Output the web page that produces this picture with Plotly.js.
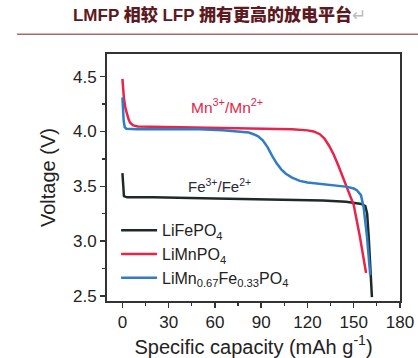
<!DOCTYPE html>
<html>
<head>
<meta charset="utf-8">
<script src="https://cdn.plot.ly/plotly-3.0.1.min.js"></script>
<style>html,body{margin:0;padding:0;background:#fff;}#chart{width:418px;height:358px;}</style>
</head>
<body>
<div id="chart"></div>
<script>
// ---- data ----
const feCap = [0, 0.3, 1, 3, 20, 60, 100, 130, 145, 152, 155, 157.5, 158.7, 159.7, 160.5, 161.2, 161.8];
const feV   = [3.62, 3.50, 3.41, 3.40, 3.40, 3.39, 3.38, 3.37, 3.36, 3.35, 3.34, 3.32, 3.25, 3.04, 2.85, 2.65, 2.49];

const mnCap = [0, 0.5, 1, 2, 3, 4, 5, 7, 10, 30, 60, 90, 110, 120, 124, 128, 131, 134, 137, 140, 143, 146, 150, 154, 156, 158];
const mnV   = [4.48, 4.38, 4.30, 4.21, 4.15, 4.11, 4.08, 4.055, 4.045, 4.04, 4.035, 4.03, 4.02, 4.01, 4.0, 3.975, 3.935, 3.87, 3.79, 3.69, 3.58, 3.48, 3.33, 3.04, 2.88, 2.71];

const mfCap = [0, 0.3, 0.8, 1.5, 2.5, 10, 30, 50, 65, 75, 82, 85, 88, 91, 94, 97, 100, 103, 106, 110, 115, 120, 130, 140, 146, 150, 152, 154.7, 156.4, 158.6, 159.7, 160.7];
const mfV   = [4.31, 4.20, 4.10, 4.04, 4.025, 4.02, 4.02, 4.02, 4.01, 4.0, 3.99, 3.975, 3.955, 3.92, 3.86, 3.78, 3.71, 3.655, 3.615, 3.58, 3.55, 3.535, 3.52, 3.505, 3.495, 3.48, 3.465, 3.42, 3.31, 3.04, 2.86, 2.69];

const seriesNames = ["LiFePO<sub>4</sub>", "LiMnPO<sub>4</sub>", "LiMn<sub>0.67</sub>Fe<sub>0.33</sub>PO<sub>4</sub>"];
const xTicks = [0, 30, 60, 90, 120, 150, 180];
const yTicks = [2.5, 3.0, 3.5, 4.0, 4.5];
const titleText = "LMFP 相较 LFP 拥有更高的放电平台";
const mnLabel = "Mn<sup>3+</sup>/Mn<sup>2+</sup>";
const feLabel = "Fe<sup>3+</sup>/Fe<sup>2+</sup>";

const cFe = "#1e2a2a", cMn = "#e8244a", cMf = "#2f7dc4";
const font = "Arial, 'Liberation Sans', sans-serif";

const traces = [
  {x: feCap, y: feV, name: seriesNames[0], mode: "lines", line: {color: cFe, width: 2.5}},
  {x: mnCap, y: mnV, name: seriesNames[1], mode: "lines", line: {color: cMn, width: 2.5}},
  {x: mfCap, y: mfV, name: seriesNames[2], mode: "lines", line: {color: cMf, width: 2.5}}
];

const axisCommon = {
  showline: true, mirror: true, linecolor: "#333", linewidth: 2,
  ticks: "outside", ticklen: 5, tickwidth: 1.5, tickcolor: "#333",
  showgrid: false, zeroline: false,
  tickfont: {family: font, size: 17, color: "#222"}
};

const layout = {
  width: 418, height: 358,
  margin: {l: 107, r: 18, t: 54, b: 57},
  paper_bgcolor: "#fff", plot_bgcolor: "#fff",
  title: {
    text: titleText + "<span style='color:#bbb;font-weight:normal'>↵</span>",
    font: {family: "Arial, 'Noto Sans CJK SC', sans-serif", size: 17, color: "#5c1a1f", weight: 900},
    x: 0.525, xref: "container", xanchor: "center",
    y: 0.958, yref: "container", yanchor: "middle"
  },
  xaxis: Object.assign({}, axisCommon, {
    range: [-10, 180], tickvals: xTicks, ticktext: xTicks.map(String),
    minor: {dtick: 15, ticks: "outside", ticklen: 3, tickcolor: "#333", tickwidth: 1.2},
    title: {text: "Specific capacity (mAh g<sup>-1</sup>)", font: {family: font, size: 20, color: "#222"}, standoff: 6}
  }),
  yaxis: Object.assign({}, axisCommon, {
    range: [2.455, 4.706], tickvals: yTicks, ticktext: yTicks.map(v => v.toFixed(1)),
    minor: {dtick: 0.25, tick0: 2.5, ticks: "outside", ticklen: 3, tickcolor: "#333", tickwidth: 1.2},
    title: {text: "Voltage (V)", font: {family: font, size: 20, color: "#222"}, standoff: 12}
  }),
  legend: {
    x: 0.031, y: 0.355, xanchor: "left", yanchor: "top",
    bgcolor: "rgba(0,0,0,0)", borderwidth: 0,
    font: {family: font, size: 16, color: "#222"},
    itemwidth: 36, tracegroupgap: 0
  },
  annotations: [
    {x: 68, y: 4.235, xref: "x", yref: "y", text: mnLabel, showarrow: false,
     font: {family: font, size: 15.5, color: cMn}},
    {x: 63, y: 3.51, xref: "x", yref: "y", text: feLabel, showarrow: false,
     font: {family: font, size: 15, color: "#2a2a3a"}}
  ],
  shapes: [
    {type: "line", xref: "paper", yref: "paper", x0: -0.307, x1: 1.07, y0: 1.08, y1: 1.08,
     line: {color: "#a86a6a", width: 1.5}}
  ]
};

Plotly.newPlot("chart", traces, layout, {displayModeBar: false, staticPlot: true});
</script>
</body>
</html>
